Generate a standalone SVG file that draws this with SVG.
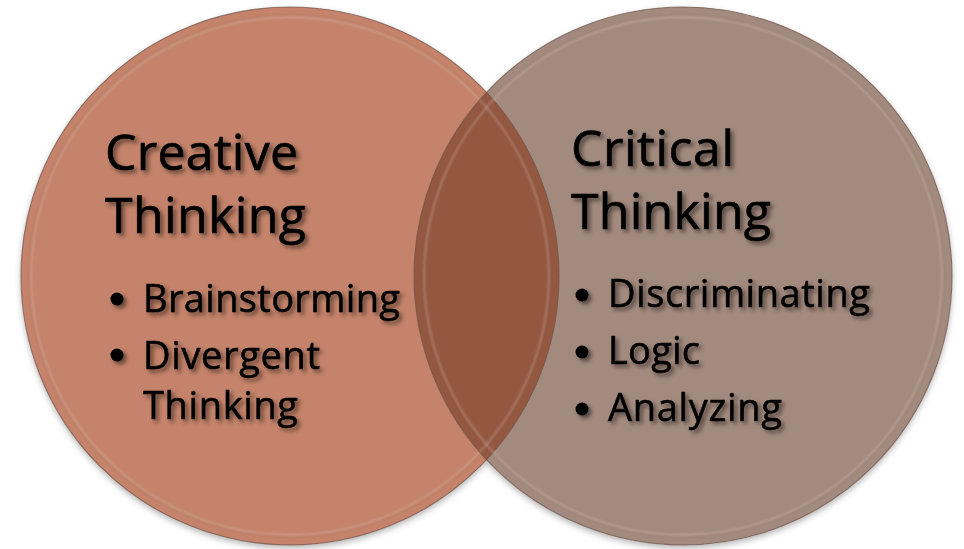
<svg xmlns="http://www.w3.org/2000/svg" width="964" height="549" viewBox="0 0 964 549">
  <style>
    .title { font-family: "Open Sans", "Noto Sans", "Liberation Sans", sans-serif; font-size: 50px; fill: #000; stroke: #000; stroke-width: 0.7; }
    .item { font-family: "Open Sans", "Noto Sans", "Liberation Sans", sans-serif; font-size: 38px; fill: #000; stroke: #000; stroke-width: 0.6; }
    .txt { filter: url(#tshadow); }
    .edge { fill: none; stroke: #6f5248; stroke-width: 1.1; stroke-opacity: 0.7; }
    .ring { fill: none; stroke: #fff0e6; stroke-width: 1.8; stroke-opacity: 0.3; filter: url(#soft); }
    .ringd { fill: none; stroke: #4a2a1e; stroke-width: 3; stroke-opacity: 0.08; filter: url(#soft); }
  </style>
  <defs>
    <filter id="tshadow" x="-10%" y="-30%" width="130%" height="170%">
      <feGaussianBlur in="SourceAlpha" stdDeviation="2"/>
      <feOffset dx="3" dy="3" result="b"/>
      <feComponentTransfer><feFuncA type="linear" slope="0.5"/></feComponentTransfer>
      <feMerge><feMergeNode/><feMergeNode in="SourceGraphic"/></feMerge>
    </filter>
    <filter id="cshadow" x="-10%" y="-10%" width="120%" height="125%">
      <feDropShadow dx="0" dy="3" stdDeviation="3" flood-color="#000" flood-opacity="0.3"/>
    </filter>
    <filter id="soft"><feGaussianBlur stdDeviation="0.8"/></filter>
    <clipPath id="leftClip"><circle cx="290" cy="276" r="269"/></clipPath>
  </defs>

  <g id="circles" filter="url(#cshadow)">
    <circle cx="290" cy="276" r="269" fill="#C4836B"/>
    <circle cx="683" cy="276" r="269" fill="#A38A7E"/>
    <circle cx="683" cy="276" r="269" fill="#94593F" clip-path="url(#leftClip)"/>
  </g>

  <g id="creative">
    <circle class="ringd" cx="290" cy="276" r="260"/>
    <circle class="ring" cx="290" cy="276" r="259"/>
    <circle class="edge" cx="290" cy="276" r="269"/>
    <g class="txt">
      <text class="title" x="105" y="170" textLength="193">Creative</text>
      <text class="title" x="105" y="233" textLength="201">Thinking</text>
      <circle cx="117" cy="299" r="6.5"/>
      <text class="item" x="143" y="312" textLength="257">Brainstorming</text>
      <circle cx="117" cy="355" r="6.5"/>
      <text class="item" x="143" y="369" textLength="177">Divergent</text>
      <text class="item" x="143" y="419" textLength="155">Thinking</text>
    </g>
  </g>

  <g id="critical">
    <circle class="ringd" cx="683" cy="276" r="260"/>
    <circle class="ring" cx="683" cy="276" r="259"/>
    <circle class="edge" cx="683" cy="276" r="269"/>
    <g class="txt">
      <text class="title" x="571" y="166" textLength="163">Critical</text>
      <text class="title" x="571" y="229" textLength="200">Thinking</text>
      <circle cx="582" cy="295" r="6.5"/>
      <text class="item" x="608" y="307" textLength="262">Discriminating</text>
      <circle cx="582" cy="352" r="6.5"/>
      <text class="item" x="608" y="364" textLength="92">Logic</text>
      <circle cx="582" cy="409" r="6.5"/>
      <text class="item" x="608" y="421" textLength="174">Analyzing</text>
    </g>
  </g>
</svg>
